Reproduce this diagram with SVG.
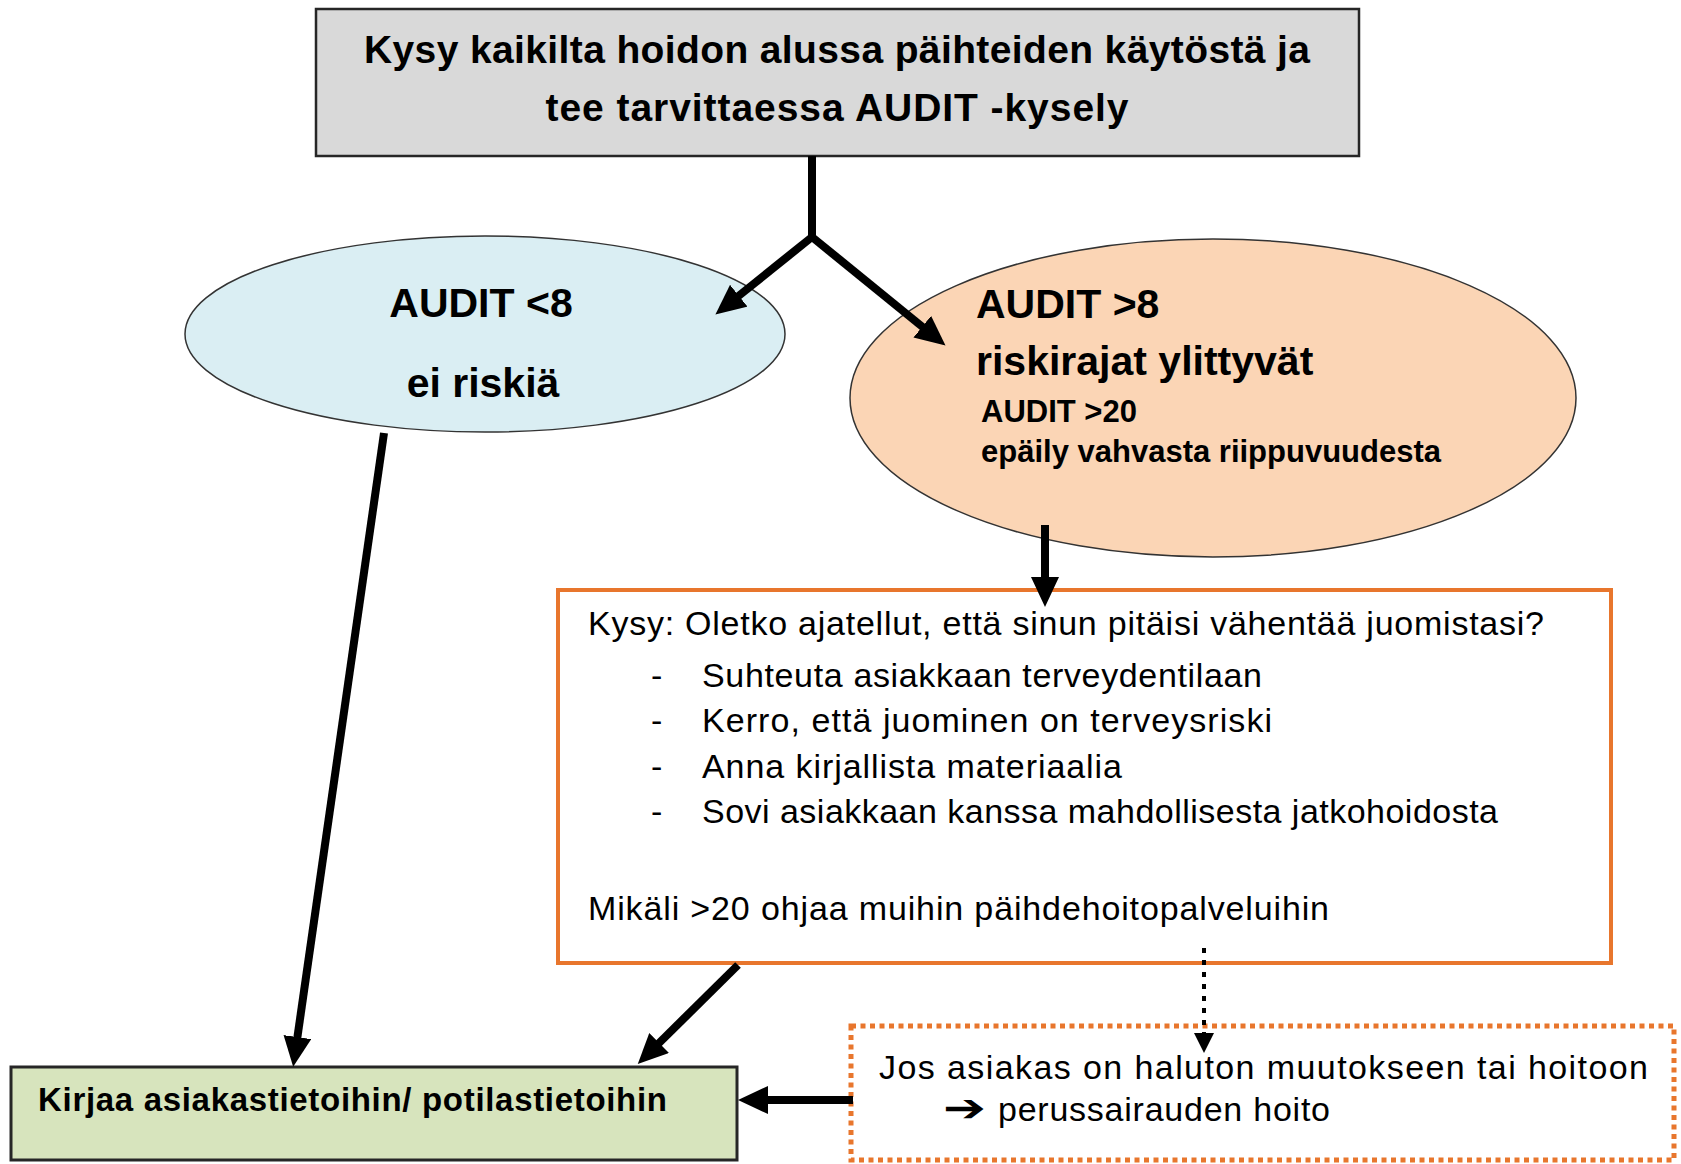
<svg xmlns="http://www.w3.org/2000/svg" width="1681" height="1164" viewBox="0 0 1681 1164">
  <style>
    .b { font-family: "Liberation Sans", Arial, sans-serif; font-weight: bold; fill: #000; }
    .r { font-family: "Liberation Sans", Arial, sans-serif; font-weight: normal; fill: #000; }
    .conn { stroke: #000; stroke-width: 8; fill: none; }
    .dot { stroke: #000; stroke-width: 4; stroke-dasharray: 5 7; fill: none; }
  </style>
  <defs>
    <marker id="ah" viewBox="0 0 30 28" refX="10" refY="14" markerWidth="30" markerHeight="28" orient="auto" markerUnits="userSpaceOnUse">
      <path d="M0,0 L30,14 L0,28 z" fill="#000"/>
    </marker>
    <marker id="ahs" viewBox="0 0 20 20" refX="4" refY="10" markerWidth="20" markerHeight="20" orient="auto" markerUnits="userSpaceOnUse">
      <path d="M0,0 L20,10 L0,20 z" fill="#000"/>
    </marker>
  </defs>
  <rect width="1681" height="1164" fill="#fff"/>

  <g id="start">
    <rect x="316" y="9" width="1043" height="147" fill="#d9d9d9" stroke="#262626" stroke-width="2.5"/>
    <text class="b" x="837" y="63" font-size="39" text-anchor="middle" textLength="946">Kysy kaikilta hoidon alussa päihteiden käytöstä ja</text>
    <text class="b" x="837" y="121" font-size="39" text-anchor="middle" textLength="583">tee tarvittaessa AUDIT -kysely</text>
  </g>

  <g id="low-risk">
    <ellipse cx="485" cy="334" rx="300" ry="98" fill="#daeef3" stroke="#333" stroke-width="1.5"/>
    <text class="b" x="481" y="317" font-size="41" text-anchor="middle">AUDIT &lt;8</text>
    <text class="b" x="483" y="397" font-size="41" text-anchor="middle">ei riskiä</text>
  </g>

  <g id="high-risk">
    <ellipse cx="1213" cy="398" rx="363" ry="159" fill="#fbd5b5" stroke="#333" stroke-width="1.5"/>
    <text class="b" x="976" y="318" font-size="41">AUDIT &gt;8</text>
    <text class="b" x="976" y="375" font-size="41">riskirajat ylittyvät</text>
    <text class="b" x="981" y="422" font-size="31">AUDIT &gt;20</text>
    <text class="b" x="981" y="462" font-size="31">epäily vahvasta riippuvuudesta</text>
  </g>

  <g id="intervention">
    <rect x="558" y="590" width="1053" height="373" fill="#fff" stroke="#e8762d" stroke-width="4"/>
    <text class="r" x="588" y="635" font-size="34" textLength="956">Kysy: Oletko ajatellut, että sinun pitäisi vähentää juomistasi?</text>
    <text class="r" x="651" y="687" font-size="34">-</text>
    <text class="r" x="702" y="687" font-size="34" textLength="560">Suhteuta asiakkaan terveydentilaan</text>
    <text class="r" x="651" y="732" font-size="34">-</text>
    <text class="r" x="702" y="732" font-size="34" textLength="570">Kerro, että juominen on terveysriski</text>
    <text class="r" x="651" y="778" font-size="34">-</text>
    <text class="r" x="702" y="778" font-size="34" textLength="420">Anna kirjallista materiaalia</text>
    <text class="r" x="651" y="823" font-size="34">-</text>
    <text class="r" x="702" y="823" font-size="34" textLength="796">Sovi asiakkaan kanssa mahdollisesta jatkohoidosta</text>
    <text class="r" x="588" y="920" font-size="34" textLength="741">Mikäli &gt;20 ohjaa muihin päihdehoitopalveluihin</text>
  </g>

  <g id="unwilling">
    <rect x="851" y="1026" width="823" height="134" fill="#fff" stroke="#e8762d" stroke-width="5" stroke-dasharray="5 4.5"/>
    <text class="r" x="879" y="1079" font-size="34" textLength="769">Jos asiakas on haluton muutokseen tai hoitoon</text>
    <text transform="translate(943,1121) scale(1.35,1)" font-size="38" font-family="DejaVu Sans, sans-serif" font-weight="bold" fill="#000">➔</text>
    <text class="r" x="998" y="1121" font-size="34" textLength="332">perussairauden hoito</text>
  </g>

  <g id="record">
    <rect x="11" y="1067" width="726" height="93" fill="#d7e4bd" stroke="#262626" stroke-width="3"/>
    <text class="b" x="38" y="1111" font-size="33" textLength="629">Kirjaa asiakastietoihin/ potilastietoihin</text>
  </g>

  <g id="connectors">
    <path class="conn" d="M812,156 L812,237" stroke-width="12"/>
    <path class="conn" d="M812,237 L731,302" marker-end="url(#ah)"/>
    <path class="conn" d="M812,237 L930,333" marker-end="url(#ah)"/>
    <path class="conn" d="M1045,525 L1045,587" marker-end="url(#ah)"/>
    <path class="conn" d="M384,433 L296,1047" marker-end="url(#ah)"/>
    <path class="conn" d="M738,965 L652,1050" marker-end="url(#ah)"/>
    <path class="conn" d="M853,1100 L758,1100" marker-end="url(#ah)"/>
    <path class="dot" d="M1204,948 L1204,1037" marker-end="url(#ahs)"/>
  </g>
</svg>
